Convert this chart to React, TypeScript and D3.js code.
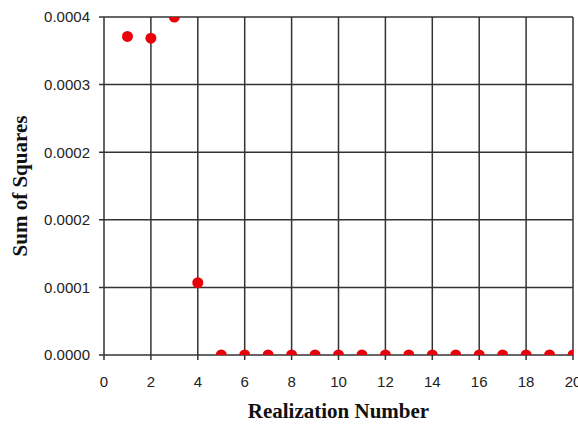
import * as d3 from "d3";

const realizations = d3.range(1, 21);
const sumOfSquares = [
  0.000377, 0.000375, 0.0004, 0.0000855, 0, 0, 0, 0, 0, 0, 0, 0, 0, 0, 0, 0, 0, 0, 0, 0,
];
const xTicks = [0, 2, 4, 6, 8, 10, 12, 14, 16, 18, 20];
const yTicks = [0, 0.00008, 0.00016, 0.00024, 0.00032, 0.0004];

const width = 578;
const height = 424;
const margin = { top: 17, right: 5, bottom: 69, left: 104 };

export default function App() {
  const x = d3
    .scaleLinear()
    .domain([0, 20])
    .range([margin.left, width - margin.right]);
  const y = d3
    .scaleLinear()
    .domain([0, 0.0004])
    .range([height - margin.bottom, margin.top]);
  const fmt = d3.format(".4f");
  const gridColor = "#333";

  return (
    <svg
      width={width}
      height={height}
      style={{ position: "absolute", left: 0, top: 0, background: "#fff" }}
    >
      <defs>
        <clipPath id="plot">
          <rect
            x={x(0)}
            y={y(0.0004)}
            width={x(20) - x(0)}
            height={y(0) - y(0.0004)}
          />
        </clipPath>
      </defs>

      {/* grid */}
      {xTicks.map((t) => (
        <line
          key={"gx" + t}
          x1={x(t)}
          x2={x(t)}
          y1={y(0.0004)}
          y2={y(0) + 5}
          stroke={gridColor}
          strokeWidth={1.5}
        />
      ))}
      {yTicks.map((t) => (
        <line
          key={"gy" + t}
          x1={x(0) - 5}
          x2={x(20)}
          y1={y(t)}
          y2={y(t)}
          stroke={gridColor}
          strokeWidth={1.5}
        />
      ))}

      {/* tick labels */}
      {xTicks.map((t) => (
        <text
          key={"lx" + t}
          x={x(t)}
          y={y(0) + 32}
          textAnchor="middle"
          fontFamily="Liberation Sans, Arial, sans-serif"
          fontSize={15}
          fill="#222"
        >
          {t}
        </text>
      ))}
      {yTicks.map((t) => (
        <text
          key={"ly" + t}
          x={x(0) - 14}
          y={y(t)}
          dy="0.36em"
          textAnchor="end"
          fontFamily="Liberation Sans, Arial, sans-serif"
          fontSize={15}
          fill="#222"
        >
          {fmt(t)}
        </text>
      ))}

      {/* points */}
      <g clipPath="url(#plot)">
        {realizations.map((r, i) => (
          <circle
            key={"p" + r}
            cx={x(r)}
            cy={y(sumOfSquares[i])}
            r={5.5}
            fill="#e8000b"
          />
        ))}
      </g>

      {/* axis titles */}
      <text
        x={x(10)}
        y={418}
        textAnchor="middle"
        fontFamily="Liberation Serif, Times New Roman, serif"
        fontWeight="bold"
        fontSize={21}
        fill="#111"
      >
        Realization Number
      </text>
      <text
        transform={`translate(27, ${(y(0) + y(0.0004)) / 2}) rotate(-90)`}
        textAnchor="middle"
        fontFamily="Liberation Serif, Times New Roman, serif"
        fontWeight="bold"
        fontSize={21}
        fill="#111"
      >
        Sum of Squares
      </text>
    </svg>
  );
}
